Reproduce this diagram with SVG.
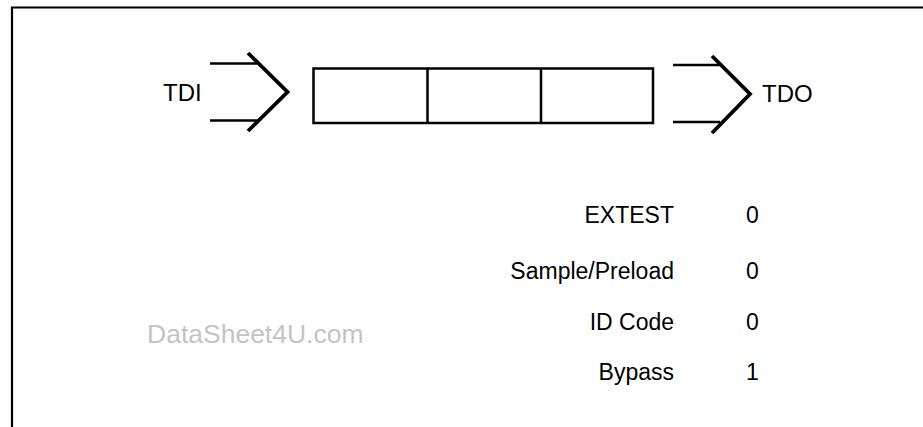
<svg xmlns="http://www.w3.org/2000/svg" width="923" height="427" viewBox="0 0 923 427">
<style>
.ln{fill:none;stroke:#000;stroke-width:2.5;stroke-linecap:butt}
.chev{fill:none;stroke:#000;stroke-width:3.8;stroke-linecap:butt;stroke-linejoin:miter}
.t{font-family:"Liberation Sans",Arial,sans-serif;fill:#000}
.big{font-size:24px}
.tab{font-size:23px}
.wm{font-family:"Liberation Sans",Arial,sans-serif;font-size:26.5px;fill:#c4c4c4}
</style>
<rect width="923" height="427" fill="#fff"/>
<g id="frame">
<path d="M12,427 V7.5 H923" fill="none" stroke="#000" stroke-width="2.2"/>
</g>
<g id="connectors">
<g id="tdi-arrow">
<line class="ln" x1="210" y1="63.5" x2="257" y2="63.5"/>
<line class="ln" x1="210" y1="120.5" x2="257" y2="120.5"/>
<polyline class="chev" points="248,53 287.5,92 248,131"/>
</g>
<g id="tdo-arrow">
<line class="ln" x1="673" y1="65" x2="720" y2="65"/>
<line class="ln" x1="673" y1="122" x2="720" y2="122"/>
<polyline class="chev" points="712,56 750,94 712,133"/>
</g>
</g>
<g id="register">
<rect class="ln" x="313.5" y="68.5" width="339.5" height="54.5"/>
<line class="ln" x1="427.5" y1="68.5" x2="427.5" y2="123"/>
<line class="ln" x1="541" y1="68.5" x2="541" y2="123"/>
</g>
<g id="tdi-label"><text class="t big" x="163" y="101">TDI</text></g>
<g id="tdo-label"><text class="t big" x="762" y="101.5">TDO</text></g>
<g id="table">
<text class="t tab" x="674" y="222.5" text-anchor="end">EXTEST</text>
<text class="t tab" x="674" y="278.5" text-anchor="end">Sample/Preload</text>
<text class="t tab" x="674" y="329.5" text-anchor="end">ID Code</text>
<text class="t tab" x="674" y="379.5" text-anchor="end">Bypass</text>
<text class="t tab" x="752.5" y="222.5" text-anchor="middle">0</text>
<text class="t tab" x="752.5" y="278.5" text-anchor="middle">0</text>
<text class="t tab" x="752.5" y="329.5" text-anchor="middle">0</text>
<text class="t tab" x="752.5" y="379.5" text-anchor="middle">1</text>
</g>
<g id="watermark"><text class="wm" x="147" y="342.5">DataSheet4U.com</text></g>
</svg>
